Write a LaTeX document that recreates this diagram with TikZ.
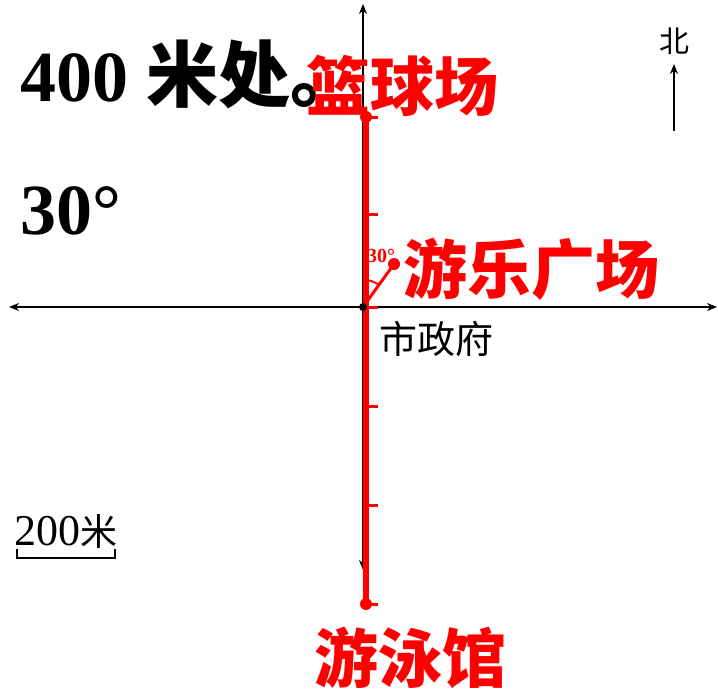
\documentclass[tikz,border=0pt]{standalone}
\usepackage{fontspec}
\setmainfont{Liberation Serif}
\newfontfamily\cjk{Noto Sans CJK SC}
\usetikzlibrary{arrows.meta}
\definecolor{mapred}{RGB}{255,0,0}
\tikzset{
  axis/.style={draw=black, line width=1.5pt, -{Stealth[length=10pt,width=8pt]}},
  route/.style={draw=mapred, line width=6pt},
  tick/.style={draw=mapred, line width=3pt},
  place/.style={mapred, inner sep=0pt, anchor=base west, font=\cjk\bfseries\fontsize{64}{64}\selectfont},
  spot/.style={fill=mapred, circle, minimum size=12pt, inner sep=0pt},
}
\begin{document}
\begin{tikzpicture}[x=1pt,y=-1pt]
          \useasboundingbox (0,0) rectangle (718,691);
          % axes
          \coordinate (O) at (363,307);
          \draw[axis] (O) -- (363,4);
          \draw[axis] (O) -- (363,570);
          \draw[axis] (O) -- (9,307);
          \draw[axis] (O) -- (717,307);
          % places
          \coordinate (lanqiu) at (366,117);
          \coordinate (youle) at (394,264);
          \coordinate (youyong) at (366,604);
          \draw[route] (lanqiu) -- (youyong);
          \draw[tick] (366,117) -- (378,117);
          \draw[tick] (366,214) -- (378,214);
          \draw[tick] (366,307) -- (378,307);
          \draw[tick] (366,406) -- (378,406);
          \draw[tick] (366,505) -- (378,505);
          \draw[tick] (366,604) -- (378,604);
          \draw[draw=mapred, line width=3pt] (O) -- (youle);
          \draw[draw=mapred, line width=2pt] (366,280) arc[start angle=-84, end angle=-56, radius=27];
          \node[spot] (lanqiudot) at (lanqiu) {};
          \node[spot] (youledot) at (youle) {};
          \node[spot] (youyongdot) at (youyong) {};
          \fill (O) circle (4pt);
          % labels
          \node[inner sep=0pt, anchor=base west, font=\bfseries\fontsize{72}{72}\selectfont] (dist) at (20,101) {400 {\cjk 米处。}};
          \node[inner sep=0pt, anchor=base west, font=\bfseries\fontsize{72}{72}\selectfont] (deg) at (20,234) {30°};
          \node[place] (lanqiulbl) at (306,110) {篮球场};
          \node[place] (youlelbl) at (403,293) {游乐广场};
          \node[place] (youyonglbl) at (314,682) {游泳馆};
          \node[mapred, inner sep=0pt, anchor=base west, font=\bfseries\fontsize{20}{20}\selectfont] (anglbl) at (367,262) {30°};
          \node[inner sep=0pt, anchor=base west, font=\cjk\fontsize{38}{38}\selectfont] (shizhengfu) at (379,353) {市政府};
          % north
          \node[inner sep=0pt, anchor=base west, font=\cjk\fontsize{30}{30}\selectfont] (bei) at (659,52) {北};
          \coordinate (nbot) at (674,131);
          \draw[line width=1.5pt, -{Stealth[length=10pt,width=8pt]}] (nbot) -- (674,64);
          % scale
          \node[inner sep=0pt, anchor=base west] (scale) at (14,545) {\fontsize{44}{44}\selectfont 200{\cjk\fontsize{37}{37}\selectfont 米}};
          \draw[line width=1.5pt] (17,549) -- (17,558) -- (115,558) -- (115,549);
\end{tikzpicture}
\end{document}
